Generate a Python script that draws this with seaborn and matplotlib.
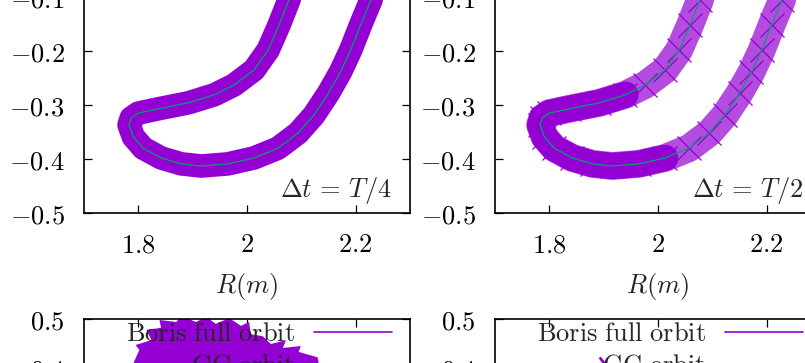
import matplotlib
matplotlib.use("Agg")
import matplotlib.pyplot as plt
import seaborn as sns
from matplotlib.lines import Line2D
from matplotlib.ticker import FuncFormatter

# guiding-centre track (R, Z in m)
R_GC = [2.095, 2.077, 2.059, 2.039, 2.013, 1.976, 1.940, 1.892, 1.837, 1.800, 1.787, 1.783,
        1.791, 1.809, 1.842, 1.879, 1.916, 1.965, 2.013, 2.057, 2.094, 2.123, 2.150, 2.172,
        2.191, 2.209, 2.228, 2.245]
Z_GC = [-0.060, -0.106, -0.152, -0.198, -0.235, -0.263, -0.281, -0.296, -0.307, -0.315, -0.324, -0.337,
        -0.359, -0.380, -0.398, -0.409, -0.413, -0.409, -0.398, -0.380, -0.352, -0.319, -0.278, -0.239,
        -0.198, -0.152, -0.106, -0.060]
# part of the dt = T/2 Boris orbit that is drawn solid (index range of the track)
DENSE_START, DENSE_END = 6, 19

# visible top of the Boris orbit in the lower-left panel
R_BURST = [1.791, 1.802, 1.795, 1.824, 1.815, 1.842, 1.839, 1.870, 1.879, 1.906, 1.925, 1.943,
           1.967, 1.989, 2.004, 2.007, 2.029, 2.044, 2.072, 2.066, 2.099, 2.095, 2.130, 2.132,
           2.132, 1.791]
Z_BURST = [0.410, 0.437, 0.447, 0.457, 0.478, 0.482, 0.498, 0.494, 0.506, 0.494, 0.504, 0.490,
           0.502, 0.486, 0.494, 0.469, 0.465, 0.449, 0.457, 0.441, 0.445, 0.433, 0.422, 0.410,
           0.386, 0.386]
# small visible bits in the lower-right panel
R_BITS = [1.894, 1.905]
Z_BITS = [0.420, 0.404]

DT_LABELS = [r'$\Delta t\,=\,T/4$', r'$\Delta t\,=\,T/2$']
LEGEND_LABELS = [r'$\mathrm{Boris\ full\ orbit}$', r'$\mathrm{GC\ orbit}$']

PURPLE = '#9400d3'
TEAL = '#009e73'

sns.set_theme(style='ticks')
plt.rcParams['font.family'] = ['DejaVu Sans']
plt.rcParams['mathtext.fontset'] = 'cm'
FS = 19

fig = plt.figure(figsize=(8.05, 3.63), dpi=100)
lefts = [0.1043, 0.6149]
top_axes = [fig.add_axes([l, 0.4132, 0.4050, 1.4876]) for l in lefts]
bot_axes = [fig.add_axes([l, -1.3664, 0.4050, 1.4876]) for l in lefts]

fmt = FuncFormatter(lambda v, p: f'${round(v, 2):g}$')


def style(ax, ylim, yticks):
    ax.set_xlim(1.7, 2.3)
    ax.set_ylim(*ylim)
    ax.set_xticks([1.8, 2.0, 2.2])
    ax.set_yticks(yticks)
    ax.xaxis.set_major_formatter(fmt)
    ax.yaxis.set_major_formatter(fmt)
    ax.tick_params(direction='in', top=True, right=True, length=5.5, width=0.9,
                   labelsize=FS, pad=14, colors='black')
    for s in ax.spines.values():
        s.set_visible(True)
        s.set_linewidth(1.2)
        s.set_color('black')


for i, ax in enumerate(top_axes):
    if i == 0:
        sns.lineplot(x=R_GC, y=Z_GC, sort=False, estimator=None, ax=ax, color=PURPLE,
                     linewidth=17, solid_capstyle='round', solid_joinstyle='round')
    else:
        sns.lineplot(x=R_GC, y=Z_GC, sort=False, estimator=None, ax=ax, color=PURPLE,
                     linewidth=20, alpha=0.7, solid_joinstyle='round')
        ax.plot(R_GC, Z_GC, linestyle='none', marker='x', markersize=17,
                markeredgewidth=0.9, color=PURPLE)
        sns.lineplot(x=R_GC[DENSE_START:DENSE_END], y=Z_GC[DENSE_START:DENSE_END], sort=False,
                     estimator=None, ax=ax, color=PURPLE, linewidth=19,
                     solid_capstyle='round', solid_joinstyle='round')
    sns.lineplot(x=R_GC, y=Z_GC, sort=False, estimator=None, ax=ax, color=TEAL, linewidth=0.9)
    style(ax, (-0.5, 0.5), [-0.5, -0.4, -0.3, -0.2, -0.1, 0.0, 0.1, 0.2, 0.3, 0.4, 0.5])
    ax.set_xlabel(r'$R(m)$', fontsize=FS, labelpad=9)
    ax.set_ylabel('')
    ax.text(2.267, -0.47, DT_LABELS[i], ha='right', va='baseline', fontsize=FS)

bot_axes[0].fill(R_BURST, Z_BURST, color=PURPLE, linewidth=0)
bot_axes[1].plot(R_BITS, Z_BITS, color=PURPLE, linewidth=2)

# the GC sample sits below the visible strip, so only the Boris sample shows
handles = [Line2D([], [], color=PURPLE, linewidth=1.2), Line2D([], [], color=TEAL, linestyle='none')]
for ax in bot_axes:
    style(ax, (-0.6, 0.5), [-0.6, -0.5, -0.4, -0.3, -0.2, -0.1, 0.0, 0.1, 0.2, 0.3, 0.4, 0.5])
    ax.legend(handles, LEGEND_LABELS, loc='upper right', bbox_to_anchor=(0.945, 0.996),
              frameon=False, fontsize=FS, markerfirst=False, handlelength=2.95,
              handletextpad=0.72, borderpad=0, borderaxespad=0, labelspacing=0.2)

fig.savefig('out.png', dpi=100)
